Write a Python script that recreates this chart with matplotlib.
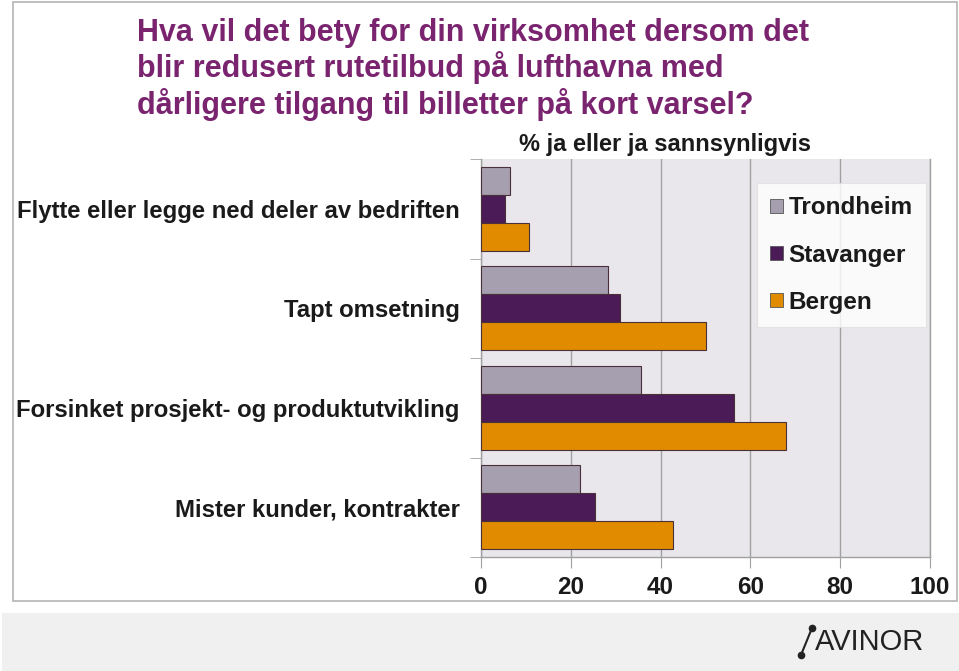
import matplotlib
matplotlib.use("Agg")
import matplotlib.pyplot as plt
from matplotlib.patches import Rectangle, Patch
from matplotlib.lines import Line2D
import numpy as np

plt.rcParams['font.family'] = ['Liberation Sans', 'DejaVu Sans']

# data
categories = ["Flytte eller legge ned deler av bedriften",
              "Tapt omsetning",
              "Forsinket prosjekt- og produktutvikling",
              "Mister kunder, kontrakter"]
series = ["Trondheim", "Stavanger", "Bergen"]
trondheim = [6.4, 28.2, 35.6, 22.0]
stavanger = [5.3, 31.0, 56.4, 25.4]
bergen = [10.6, 50.0, 67.9, 42.8]
colors = ["#A69FAF", "#4B1B57", "#E08B00"]
xticks = [0, 20, 40, 60, 80, 100]
title_lines = ["Hva vil det bety for din virksomhet dersom det",
               "blir redusert rutetilbud på lufthavna med",
               "dårligere tilgang til billetter på kort varsel?"]

W, H = 959, 671
fig = plt.figure(figsize=(W / 100, H / 100), dpi=100)

# white panel with grey border and grey footer band
fig.patches.append(Rectangle((13 / W, 1 - 601 / H), 944 / W, 599 / H,
                             transform=fig.transFigure, facecolor="white",
                             edgecolor="#B4B4B4", linewidth=1.2, zorder=-2))
fig.patches.append(Rectangle((2 / W, 0), 957 / W, 58 / H,
                             transform=fig.transFigure, facecolor="#F0F0F0",
                             edgecolor="none", zorder=-2))

# title
for i, line in enumerate(title_lines):
    fig.text(137 / W, 1 - (41 + 36.3 * i) / H, line, ha="left", va="baseline",
             fontsize=22, fontweight="bold", color="#7A236F")
fig.text(665 / W, 1 - 151 / H, "% ja eller ja sannsynligvis", ha="center",
         va="baseline", fontsize=17, fontweight="bold", color="#1a1a1a")

ax = fig.add_axes([481 / W, 1 - 557 / H, 449 / W, 398 / H])
ax.set_facecolor("#E9E7EB")

y = np.arange(len(categories))
h = 0.28
for vals, off, col, name in zip([trondheim, stavanger, bergen], [-h, 0, h], colors, series):
    ax.barh(y + off, vals, height=h, color=col, edgecolor="#4a3038",
            linewidth=0.8, label=name, zorder=3)

ax.set_xlim(0, 100)
ax.set_ylim(3.5, -0.5)
ax.set_xticks(xticks)
ax.set_xticklabels([str(t) for t in xticks], fontsize=17.5, fontweight="bold")
ax.set_yticks(y)
ax.set_yticklabels(categories, fontsize=17.2, fontweight="bold", color="#1a1a1a")
ax.set_yticks(np.arange(-0.5, 4, 1), minor=True)
ax.tick_params(axis="y", which="major", length=0, pad=15.5)
ax.tick_params(axis="y", which="minor", length=8, color="#A0A0A0", direction="out")
ax.tick_params(axis="x", length=8, color="#A0A0A0", pad=6, labelcolor="#1a1a1a")
ax.grid(axis="x", color="#A0A0A0", linewidth=1, zorder=1)
ax.spines["top"].set_visible(False)
for s in ["left", "right", "bottom"]:
    ax.spines[s].set_color("#A0A0A0")
    ax.spines[s].set_linewidth(1)

handles = [Patch(facecolor=c, edgecolor="#555555", linewidth=0.6) for c in colors]
leg = fig.legend(handles, series, loc="upper left",
                 bbox_to_anchor=(757 / W, 1 - 183 / H), frameon=True,
                 fancybox=False, fontsize=17.5, handlelength=0.5,
                 handleheight=0.5, handletextpad=0.25, labelspacing=1.0,
                 borderpad=0.55, borderaxespad=0)
leg.get_frame().set_edgecolor("#E0E0E0")
leg.get_frame().set_linewidth(0.8)
for t in leg.get_texts():
    t.set_fontweight("bold")
    t.set_color("#1a1a1a")

# logo
fig.add_artist(Line2D([801 / W, 812 / W], [1 - 655 / H, 1 - 628 / H],
                      transform=fig.transFigure, color="#222222", linewidth=1.5))
fig.add_artist(Line2D([801 / W, 812 / W], [1 - 655 / H, 1 - 628 / H],
                      transform=fig.transFigure, color="#222222", linestyle="none",
                      marker="o", markersize=4.5))
fig.text(815 / W, 1 - 642 / H, "AVINOR", ha="left", va="center", fontsize=21,
         color="#222222")

fig.savefig("out.png", dpi=100)
